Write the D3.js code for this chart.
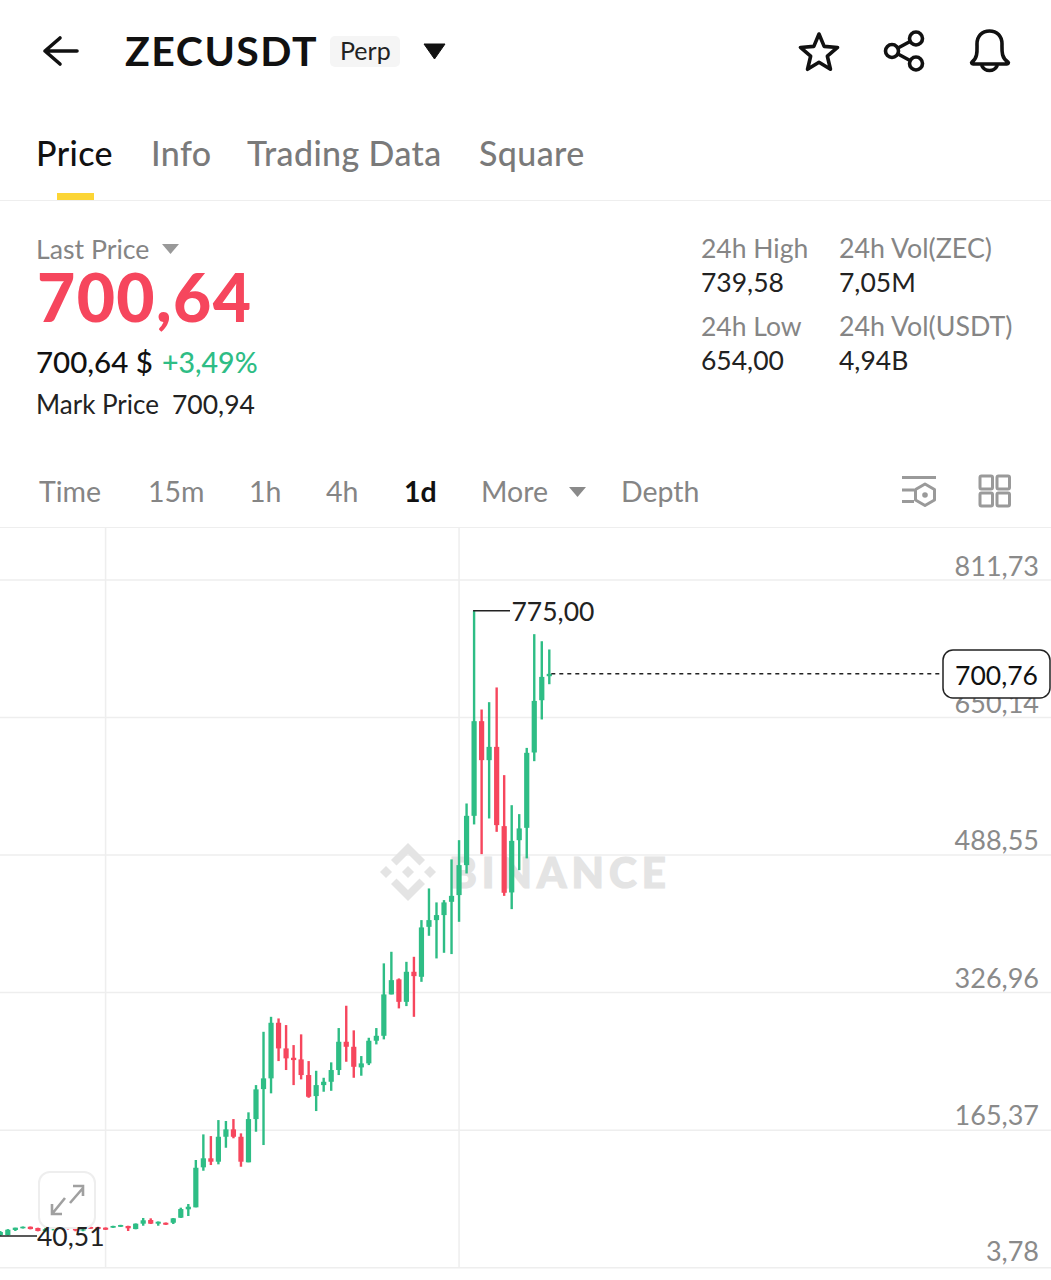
<!DOCTYPE html>
<html>
<head>
<meta charset="utf-8">
<script src="https://cdn.jsdelivr.net/npm/d3@7"></script>
<style>
  html, body { margin: 0; padding: 0; background: #fff; }
  svg { display: block; }
  text { font-family: Lato, "Open Sans", sans-serif; }
</style>
</head>
<body>
<svg id="chart" width="1051" height="1280"></svg>
<script>
const opens = [41.6,41.6,47.5,49.5,51.3,49.8,46.3,48.5,50,53,49,47,51,51,50.2,50.2,51.3,52.2,48.6,54.9,59.2,54.9,56,56,61.9,71.8,74.1,121.1,131.7,127.7,157,165.7,157,127,177.8,213,225.6,290.9,260.8,249.8,247.9,229.5,204.8,217.7,221.6,235.4,268.6,262.7,238.5,243.2,269.8,275.6,324.2,341.9,315.5,350.8,344.9,403.6,411.5,417.4,433,440.9,476.1,534,645.2,599.4,615,521.9,444,505.4,519.9,608.4,669.8,698];
const highs = [46.3,48.5,50.2,51.6,51.6,50.2,50,51,53,53.3,50,49,51.3,51.3,50.5,52.5,53.6,52.5,55.2,61.6,61.2,57.5,56.3,61.5,73.7,78,129.7,159.8,157.8,176.6,175.5,177.8,161,185.7,217.7,280.3,297.9,296,288.2,264.7,277.3,245.9,234.5,226.3,244.4,284.7,310.9,282,251.8,273.3,284.7,360.7,374.3,343,362.5,368.4,411.5,448.7,432.3,435,482.8,505.4,548.5,775,658.9,667.5,684.8,581.8,546.5,536,613.8,747.4,739.1,729.4];
const lows = [40.51,41,46.3,49.2,48.2,45.9,45,47,49,48,46,46,48.7,48.3,47.5,50,51,46.3,48.3,52.5,54.5,52.5,53.4,54.5,61.6,63.9,74.1,117.1,123.8,124.6,144.1,155.2,121.8,127,162.9,147.3,208,245.9,235.4,217.7,224.4,202.8,187.2,209.9,211,229.5,245.1,226.3,228.7,241.2,265.5,271.4,324.2,307.8,310.5,297.9,339,393.1,366.5,373.1,371.6,409.5,466.3,523.9,489,530.9,515.2,440,424.4,470.2,484,598.2,647.2,688.6];
const closes = [45.1,47.8,50.2,51.3,48.6,46.3,48.5,50,52,49,47,48,49,48.7,47.8,52.2,53.3,49.5,54.9,58.9,54.9,57.2,53.7,61.2,72.1,74.8,120.6,131.7,127.7,157,165.7,157,127.7,177.8,212.7,225.6,290.9,260.8,249.1,247.1,229.5,204,217.7,221.6,235.4,268.6,262.7,239.2,243.2,269.8,275.6,324.2,341,315.5,350.8,345.7,402.9,411.5,417.4,432.3,440,476.1,534,645.2,599.4,615,523.1,443.6,504.6,519.2,608,669,697.2,700.76];

const priceTicks = [811.73, 650.14, 488.55, 326.96, 165.37, 3.78];
const dateGridIdx = [14, 61];
const lastClose = 700.76;
const peakPrice = 775.00;
const lowPrice = 40.51;

const tabs = ["Price", "Info", "Trading Data", "Square"];
const tabX = [36, 151, 247, 479];
const periods = ["Time", "15m", "1h", "4h", "1d", "More", "Depth"];
const periodX = [39, 148, 249, 326, 404, 481, 621];

const green = "#2ebd85", red = "#f6465d", grey = "#858585", ink = "#111";
const gridColor = "#eeeeee";

const svg = d3.select("#chart");
const fmt = d3.formatLocale({ decimal: ",", thousands: ".", grouping: [3], currency: ["", "$"] }).format(".2f");

const x = d3.scaleLinear().domain([0, opens.length - 1]).range([0.3, 549.3]);
const y = d3.scaleLinear().domain([3.78, 811.73]).range([1267.2, 579.4]);

function label(parent, txt, tx, ty, size, fill, weight) {
  return parent.append("text").attr("x", tx).attr("y", ty)
    .attr("font-size", size).attr("fill", fill).attr("font-weight", weight || 400).text(txt);
}

// header
const head = svg.append("g");
head.append("path").attr("d", "M77 51H45M60 38L45 51L60 64")
  .attr("fill", "none").attr("stroke", ink).attr("stroke-width", 3.6).attr("stroke-linecap", "round").attr("stroke-linejoin", "round");
label(head, "ZECUSDT", 125, 66, 41, ink, 700).attr("letter-spacing", 1.5);
head.append("rect").attr("x", 330).attr("y", 36).attr("width", 70).attr("height", 31).attr("rx", 5).attr("fill", "#f5f5f5");
label(head, "Perp", 340, 60, 25, "#222");
head.append("path").attr("d", "M424 44H445L434.5 59Z").attr("fill", ink).attr("stroke", ink).attr("stroke-linejoin", "round");

const iconStyle = g => g.attr("fill", "none").attr("stroke", ink).attr("stroke-width", 3.6).attr("stroke-linejoin", "round").attr("stroke-linecap", "round");
const star = d3.range(10).map(i => {
  const r = i % 2 ? 8.8 : 19.5, a = i * Math.PI / 5 - Math.PI / 2;
  return [819 + r * Math.cos(a), 53.5 + r * Math.sin(a)];
});
head.append("path").call(iconStyle).attr("d", d3.line()(star) + "Z");
head.append("g").call(iconStyle).call(g => {
  g.append("circle").attr("cx", 892).attr("cy", 51).attr("r", 6.5);
  g.append("circle").attr("cx", 916).attr("cy", 38.5).attr("r", 6.5);
  g.append("circle").attr("cx", 916).attr("cy", 63.5).attr("r", 6.5);
  g.append("path").attr("d", "M898 48L910 41.5M898 54L910 60.5");
});
head.append("g").call(iconStyle).call(g => {
  g.append("path").attr("d", "M972 62C978 58 977 50 977 44C977 36 982 31 989.500 31C997 31 1002 36 1002 44C1002 50 1001 58 1008 62C1009 63 1008 64 1007 64H973C972 64 971 63 972 62Z");
  g.append("path").attr("d", "M982 66C985 72 994 72 997 66");
});

// tabs
const tabG = svg.append("g");
tabs.forEach((t, i) => label(tabG, t, tabX[i], 166, 34, i === 0 ? ink : "#7a7a7a", 500).attr("letter-spacing", 0.4));
tabG.append("rect").attr("x", 57).attr("y", 193).attr("width", 37).attr("height", 7).attr("fill", "#fcd535");
tabG.append("line").attr("x1", 0).attr("x2", 1051).attr("y1", 200.5).attr("y2", 200.5).attr("stroke", gridColor);

// price summary
const info = svg.append("g");
label(info, "Last Price", 36, 259, 26.7, grey);
info.append("path").attr("d", "M162 244H179L170.500 254Z").attr("fill", "#999");
label(info, "700,64", 37, 322, 66, red, 900).attr("letter-spacing", 1.4);
label(info, "700,64 $", 36, 373, 29.5, ink, 500);
label(info, "+3,49%", 162, 373, 28.5, green, 500);
label(info, "Mark Price", 36, 414, 26, "#222");
label(info, "700,94", 172, 414, 26.5, "#222");
label(info, "24h High", 701, 258, 26.5, grey);
label(info, "739,58", 701, 292, 26.5, "#222");
label(info, "24h Low", 701, 336, 26.5, grey);
label(info, "654,00", 701, 370, 26.5, "#222");
label(info, "24h Vol(ZEC)", 839, 258, 26.8, grey);
label(info, "7,05M", 839, 292, 26.5, "#222");
label(info, "24h Vol(USDT)", 839, 336, 26.8, grey);
label(info, "4,94B", 839, 370, 26.5, "#222");

// period bar
const bar = svg.append("g");
periods.forEach((p, i) => label(bar, p, periodX[i], 502, 28.5, p === "1d" ? ink : grey, p === "1d" ? 700 : 400));
bar.append("path").attr("d", "M569 487H586L577.500 497Z").attr("fill", "#8a8a8a");
bar.append("g").attr("fill", "none").attr("stroke", "#9a9a9a").attr("stroke-width", 3).call(g => {
  g.append("path").attr("d", "M902 477.500H936M902 490H914M902 501.500H914");
  g.append("path").attr("d", "M925 484L934.500 489.500V500L925 505.500L915.500 500V489.500Z").attr("stroke-linejoin", "round");
});
bar.append("circle").attr("cx", 925).attr("cy", 495).attr("r", 2.8).attr("fill", "#9a9a9a");
bar.append("g").attr("fill", "none").attr("stroke", "#9a9a9a").attr("stroke-width", 3).selectAll("rect")
  .data([[980, 476], [997, 476], [980, 493], [997, 493]]).join("rect")
  .attr("x", d => d[0]).attr("y", d => d[1]).attr("width", 12.5).attr("height", 13).attr("rx", 1.5);
bar.append("line").attr("x1", 0).attr("x2", 1051).attr("y1", 527.5).attr("y2", 527.5).attr("stroke", gridColor);

// chart grid + price axis
const plot = svg.append("g");
plot.selectAll("line.vgrid").data(dateGridIdx).join("line").attr("class", "vgrid")
  .attr("x1", d => x(d)).attr("x2", d => x(d)).attr("y1", 528).attr("y2", 1267).attr("stroke", gridColor).attr("stroke-width", 1.5);

const axis = plot.append("g").attr("transform", "translate(1051,0)")
  .call(d3.axisLeft(y).tickValues(priceTicks).tickSize(1051).tickPadding(0).tickFormat(fmt));
axis.select(".domain").remove();
axis.selectAll("line").attr("stroke", gridColor).attr("stroke-width", 1.5);
axis.selectAll("text").attr("x", -12).attr("text-anchor", "end").attr("dy", null)
  .attr("y", (d, i) => i < 2 ? -4 : i === priceTicks.length - 1 ? -7 : -5)
  .attr("font-size", 27).attr("fill", "#8a8a8a").attr("font-family", "Lato");

// watermark
const mark = plot.append("g").attr("fill", "#e4e4e4");
const logo = mark.append("g").attr("transform", "translate(408,872)");
logo.append("path").attr("d", "M0,-29L17,-12L11.500,-6.500L0,-18L-11.500,-6.500L-17,-12Z");
logo.append("path").attr("d", "M0,29L17,12L11.500,6.500L0,18L-11.500,6.500L-17,12Z");
logo.append("path").attr("d", "M0,-6L6,0L0,6L-6,0Z");
logo.append("path").attr("d", "M-22,-6L-16,0L-22,6L-28,0Z");
logo.append("path").attr("d", "M22,-6L28,0L22,6L16,0Z");
mark.append("text").attr("x", 449).attr("y", 888).attr("font-size", 42).attr("font-weight", 900)
  .attr("stroke", "#e4e4e4").attr("stroke-width", 1.2).attr("letter-spacing", 5).text("BINANCE");

// candles
const candles = plot.append("g").selectAll("g").data(opens.map((o, i) => i)).join("g")
  .attr("fill", i => closes[i] >= opens[i] ? green : red);
candles.append("rect").attr("x", i => x(i) - 1.2).attr("width", 2.4)
  .attr("y", i => y(highs[i])).attr("height", i => y(lows[i]) - y(highs[i]));
candles.append("rect").attr("x", i => x(i) - 2.6).attr("width", 5.2)
  .attr("y", i => y(Math.max(opens[i], closes[i])))
  .attr("height", i => Math.max(1, Math.abs(y(opens[i]) - y(closes[i]))));

// high / low callouts
const peakX = x(highs.indexOf(peakPrice));
plot.append("line").attr("x1", peakX - 1).attr("x2", 510).attr("y1", y(peakPrice)).attr("y2", y(peakPrice)).attr("stroke", "#222").attr("stroke-width", 1.5);
label(plot, fmt(peakPrice), 511.5, y(peakPrice) + 10.5, 26.5, "#222");

// expand button sits above the candles, the low label above the button
const btn = plot.append("g");
btn.append("rect").attr("x", 39).attr("y", 1172).attr("width", 56).attr("height", 56).attr("rx", 11)
  .attr("fill", "#fff").attr("stroke", "#eeeeee").attr("stroke-width", 2);
btn.append("path").attr("d", "M70 1203L83 1188M73 1186H83V1196M65 1198L52 1214M52 1204V1214H62")
  .attr("fill", "none").attr("stroke", "#a0a0a0").attr("stroke-width", 2.6);

plot.append("line").attr("x1", 0).attr("x2", 37).attr("y1", y(lowPrice)).attr("y2", y(lowPrice)).attr("stroke", "#222").attr("stroke-width", 1.5);
label(plot, fmt(lowPrice), 37, y(lowPrice) + 10, 26.5, "#222");

// last price marker
plot.append("line").attr("x1", x(opens.length - 1) + 2).attr("x2", 943).attr("y1", y(lastClose)).attr("y2", y(lastClose))
  .attr("stroke", "#222").attr("stroke-width", 1.5).attr("stroke-dasharray", "4 4");
plot.append("rect").attr("x", 943).attr("y", 650).attr("width", 107).attr("height", 48).attr("rx", 10)
  .attr("fill", "#fff").attr("stroke", "#222").attr("stroke-width", 1.5);
label(plot, fmt(lastClose), 996.5, 684.5, 26.5, ink).attr("text-anchor", "middle");
</script>
</body>
</html>
